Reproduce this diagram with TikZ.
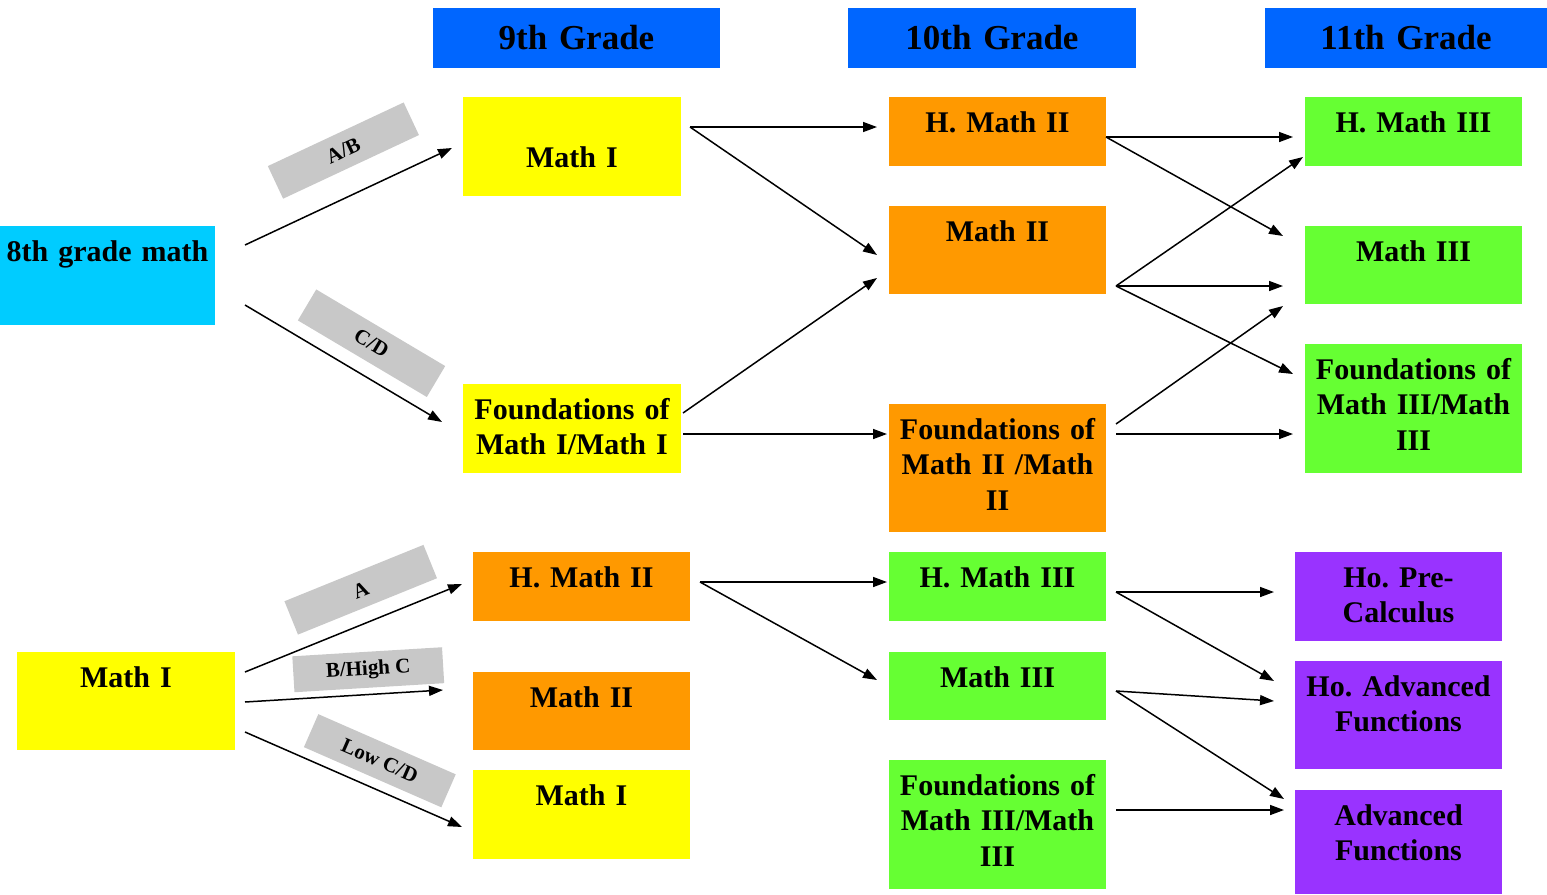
\documentclass[tikz,border=0pt]{standalone}
\usepackage{fontspec}
\setmainfont{Liberation Serif}
\usetikzlibrary{arrows.meta}
\frenchspacing

\definecolor{headblue}{RGB}{0,102,255}
\definecolor{skyblue}{RGB}{0,204,255}
\definecolor{boxyellow}{RGB}{255,255,0}
\definecolor{boxorange}{RGB}{255,153,0}
\definecolor{boxgreen}{RGB}{102,255,51}
\definecolor{boxpurple}{RGB}{153,51,255}
\definecolor{taggray}{RGB}{200,200,200}

\begin{document}
\begin{tikzpicture}[x=0.5pt, y=-0.5pt,
    head/.style={fill=headblue, anchor=north west, inner sep=0pt, outer sep=0pt,
      text width=#1, minimum height=30pt, align=center,
      font=\bfseries\fontsize{17.5}{20}\selectfont},
    cell/.style n args={3}{fill=#1, anchor=north west, inner sep=0pt, outer sep=0pt,
      text width=#2, text height=17.5pt, text depth=#3, align=center,
      font=\bfseries\fontsize{15}{17.75}\selectfont},
    tag/.style={fill=taggray, sloped, inner sep=0pt, minimum width=75pt, minimum height=18pt,
      font=\bfseries\fontsize{10.5}{12}\selectfont},
    arr/.style={-{Triangle[length=7pt, width=5pt]}, line width=0.75pt}]
  \useasboundingbox (0,0) rectangle (1547,894);

  \node[head=143.5pt] (g9) at (433,8) {9th Grade};
  \node[head=144pt] (g10) at (848,8) {10th Grade};
  \node[head=141pt] (g11) at (1265,8) {11th Grade};

  % upper track
  \node[cell={skyblue}{107.5pt}{32pt}] (m8) at (0,226) {8th grade math};
  \node[cell={boxyellow}{109pt}{14.5pt}, text height=35pt] (m9) at (463,97) {Math I};
  \node[cell={boxyellow}{109pt}{27pt}] (f9) at (463,384) {Foundations of\\Math I/Math I};
  \node[cell={boxorange}{108.5pt}{17pt}] (hm10) at (889,97) {H. Math II};
  \node[cell={boxorange}{108.5pt}{26.5pt}] (m10) at (889,206) {Math II};
  \node[cell={boxorange}{108.5pt}{46.5pt}] (f10) at (889,404) {Foundations of\\Math II /Math\\II};
  \node[cell={boxgreen}{108.5pt}{17pt}] (hm11) at (1305,97) {H. Math III};
  \node[cell={boxgreen}{108.5pt}{21.5pt}] (m11) at (1305,226) {Math III};
  \node[cell={boxgreen}{108.5pt}{47pt}] (f11) at (1305,344) {Foundations of\\Math III/Math\\III};

  % lower track
  \node[cell={boxyellow}{109pt}{31.5pt}] (mI) at (17,652) {Math I};
  \node[cell={boxorange}{108.5pt}{17pt}] (hm9) at (473,552) {H. Math II};
  \node[cell={boxorange}{108.5pt}{21.5pt}] (m9b) at (473,672) {Math II};
  \node[cell={boxyellow}{108.5pt}{27pt}] (m9c) at (473,770) {Math I};
  \node[cell={boxgreen}{108.5pt}{17pt}] (hm10b) at (889,552) {H. Math III};
  \node[cell={boxgreen}{108.5pt}{16.5pt}] (m10b) at (889,652) {Math III};
  \node[cell={boxgreen}{108.5pt}{47pt}] (f10b) at (889,760) {Foundations of\\Math III/Math\\III};
  \node[cell={boxpurple}{103.5pt}{27pt}] (pc) at (1295,552) {Ho. Pre-\\Calculus};
  \node[cell={boxpurple}{103.5pt}{36.5pt}] (haf) at (1295,661) {Ho. Advanced\\Functions};
  \node[cell={boxpurple}{103.5pt}{34.5pt}] (af) at (1295,790) {Advanced\\Functions};

  \draw[arr] ([shift={(30,19)}]m8.north east) -- node[tag, pos=0.565, above=12.5pt] (tAB) {A/B} ([shift={(-11,51)}]m9.north west);
  \draw[arr] ([shift={(30,79)}]m8.north east) -- node[tag, pos=0.56, above=6.5pt] (tCD) {C/D} ([shift={(-21,38)}]f9.north west);
  \draw[arr] ([shift={(9,30)}]m9.north east) -- ([shift={(-12,30)}]hm10.north west);
  \draw[arr] ([shift={(9,30)}]m9.north east) -- ([shift={(-12,49)}]m10.north west);
  \draw[arr] ([shift={(2,29)}]f9.north east) -- ([shift={(-12,72)}]m10.north west);
  \draw[arr] ([shift={(2,50)}]f9.north east) -- ([shift={(-2,30)}]f10.north west);
  \draw[arr] ([shift={(0,40)}]hm10.north east) -- ([shift={(-12,40)}]hm11.north west);
  \draw[arr] ([shift={(0,40)}]hm10.north east) -- ([shift={(-22,10)}]m11.north west);
  \draw[arr] ([shift={(10,80)}]m10.north east) -- ([shift={(-2,60)}]hm11.north west);
  \draw[arr] ([shift={(10,80)}]m10.north east) -- ([shift={(-22,60)}]m11.north west);
  \draw[arr] ([shift={(10,80)}]m10.north east) -- ([shift={(-12,30)}]f11.north west);
  \draw[arr] ([shift={(10,20)}]f10.north east) -- ([shift={(-22,80)}]m11.north west);
  \draw[arr] ([shift={(10,30)}]f10.north east) -- ([shift={(-12,90)}]f11.north west);

  \draw[arr] ([shift={(10,20)}]mI.north east) -- node[tag, pos=0.59, above=7pt] (tA) {A} ([shift={(-11,32)}]hm9.north west);
  \draw[arr] ([shift={(10,50)}]mI.north east) -- node[tag, pos=0.63, above=3pt] (tBC) {B/High C} ([shift={(-30,18)}]m9b.north west);
  \draw[arr] ([shift={(10,80)}]mI.north east) -- node[tag, pos=0.57, above=4.5pt] (tLow) {Low C/D} ([shift={(-11,57)}]m9c.north west);
  \draw[arr] ([shift={(10,30)}]hm9.north east) -- ([shift={(-2,30)}]hm10b.north west);
  \draw[arr] ([shift={(10,30)}]hm9.north east) -- ([shift={(-12,28)}]m10b.north west);
  \draw[arr] ([shift={(10,40)}]hm10b.north east) -- ([shift={(-21,40)}]pc.north west);
  \draw[arr] ([shift={(10,40)}]hm10b.north east) -- ([shift={(-21,20)}]haf.north west);
  \draw[arr] ([shift={(10,39)}]m10b.north east) -- ([shift={(-21,40)}]haf.north west);
  \draw[arr] ([shift={(10,39)}]m10b.north east) -- ([shift={(-11,9)}]af.north west);
  \draw[arr] ([shift={(10,50)}]f10b.north east) -- ([shift={(-11,20)}]af.north west);
\end{tikzpicture}
\end{document}
